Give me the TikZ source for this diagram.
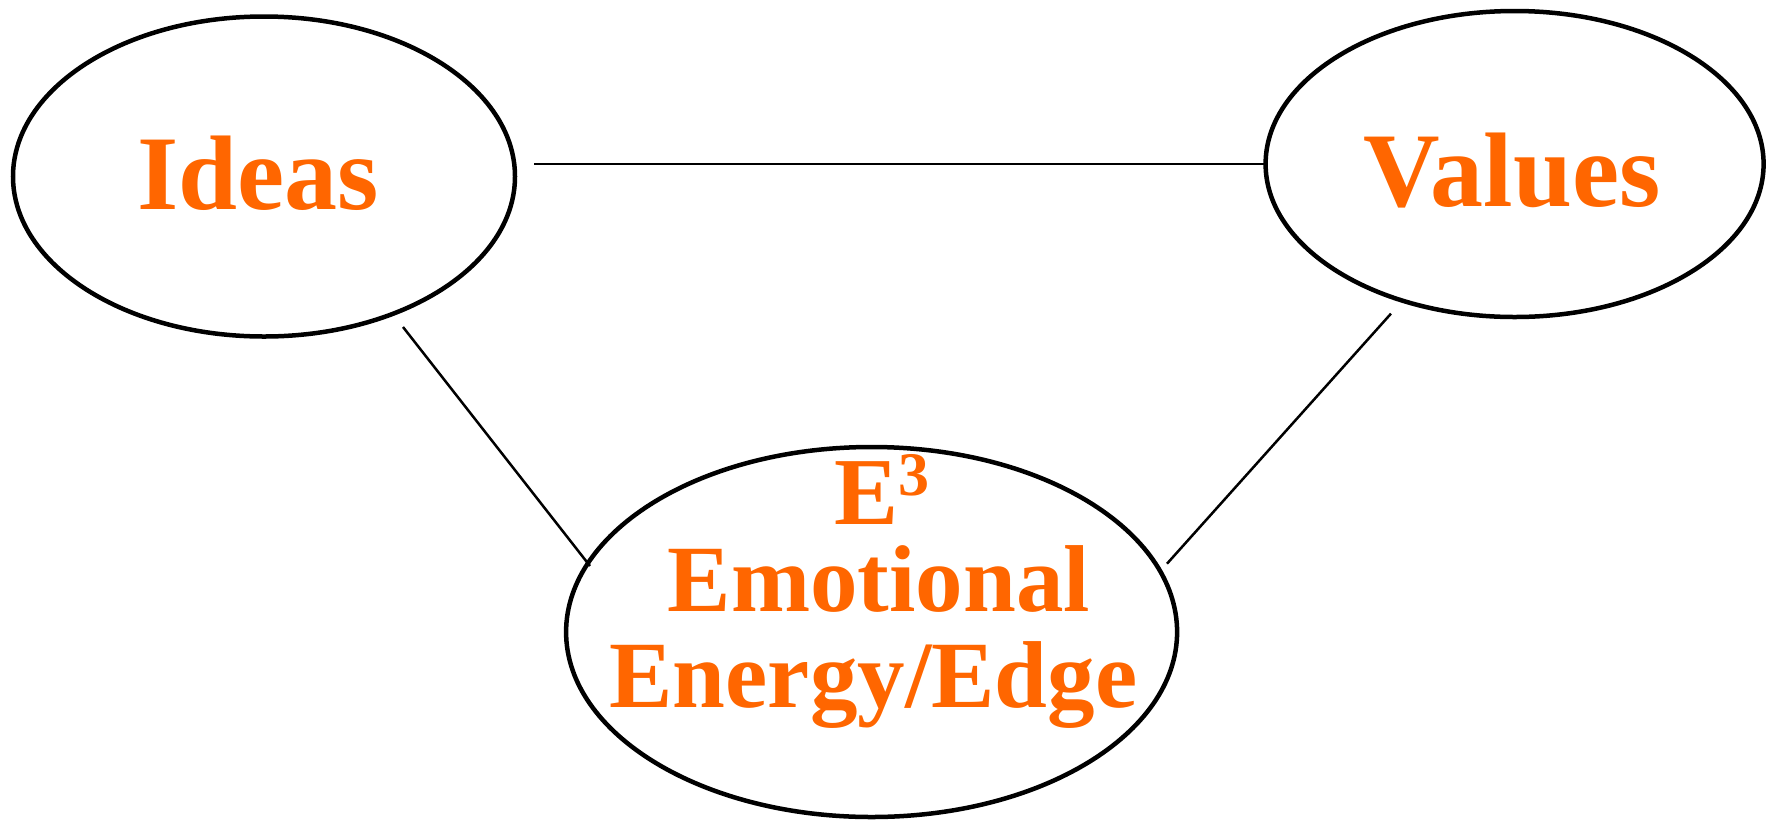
\documentclass[tikz,border=0pt]{standalone}
\usepackage{fontspec}
\setmainfont{Liberation Serif}
\usetikzlibrary{shapes.geometric}
\definecolor{txtorange}{HTML}{FF6600}
\tikzset{
  oval/.style={ellipse, draw=black, line width=4.5pt, inner sep=0pt},
  lbl/.style={anchor=base, text=txtorange, inner sep=0pt, font=\bfseries},
  link/.style={draw=black, line width=2.5pt}
}
\begin{document}
\begin{tikzpicture}[x=1pt,y=-1pt]
\useasboundingbox (0,0) rectangle (1775,820);
\node[oval, minimum width=502pt, minimum height=320pt] (ideas) at (264,176.5) {};
\node[oval, minimum width=498pt, minimum height=306pt] (values) at (1514.6,164) {};
\node[oval, minimum width=611pt, minimum height=370pt] (e3) at (871.6,632) {};
\node[lbl, font=\bfseries\fontsize{106}{106}\selectfont] (tideas) at (258.5,209) {Ideas};
\node[lbl, font=\bfseries\fontsize{106}{106}\selectfont] (tvalues) at (1512,206) {Values};
\node[lbl, font=\bfseries\fontsize{96}{96}\selectfont] (te) at (882,524) {E\raisebox{29pt}{\fontsize{62}{62}\selectfont 3}};
\node[lbl, font=\bfseries\fontsize{95}{95}\selectfont] (tem) at (879,611) {Emotional};
\node[lbl, font=\bfseries\fontsize{95}{95}\selectfont] (ten) at (873.5,707.5) {Energy/Edge};
\coordinate (a1) at (534,164);
\coordinate (a2) at (1264.5,164);
\coordinate (b1) at (403,327);
\coordinate (b2) at (590,566);
\coordinate (c1) at (1391,313.6);
\coordinate (c2) at (1167,563.7);
\draw[link] (a1) -- (a2);
\draw[link] (b1) -- (b2);
\draw[link] (c1) -- (c2);
\end{tikzpicture}
\end{document}
